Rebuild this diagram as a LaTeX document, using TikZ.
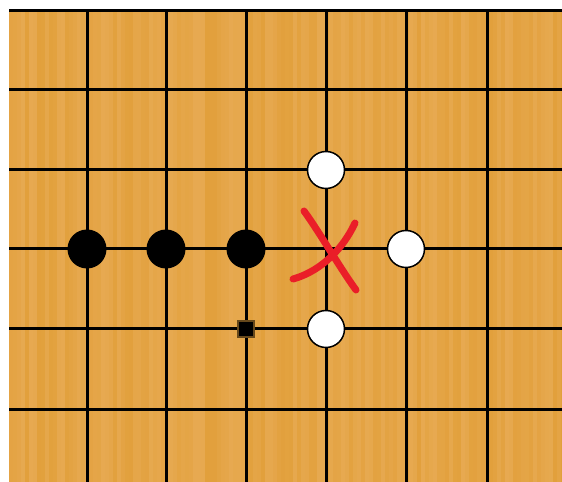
\documentclass[tikz,border=0pt]{standalone}
\usetikzlibrary{positioning}
\definecolor{wood}{RGB}{226,160,60}
\definecolor{woodlight}{RGB}{234,176,96}
\definecolor{xred}{RGB}{234,30,40}

\begin{document}
\begin{tikzpicture}[
    x=0.02cm, y=-0.02cm,
    gridline/.style={line width=0.06cm, black},
    blackstone/.style={circle, fill=black, minimum size=0.78cm, inner sep=0pt},
    whitestone/.style={circle, draw=black, line width=0.03cm, fill=white,
                       minimum size=0.74cm, inner sep=0pt},
    lastmark/.style={rectangle, fill=black, draw=black!55!wood, line width=0.05cm,
                     minimum size=0.32cm, inner sep=0pt},
    redcross/.style={line width=0.14cm, xred, line cap=round}
]
\useasboundingbox (0,0) rectangle (562,482);
% board
\fill[wood] (9,9) rectangle (562,482);
\pgfmathsetseed{12}
\foreach \x in {9,13,...,557} {
    \pgfmathsetmacro\sh{int(60*rnd)}
    \fill[woodlight!\sh!wood] (\x,9) rectangle ++(4,473);
}
% grid
\draw[gridline] (9,10.5) -- (562,10.5);
\foreach \y in {90,170,249,329,410}
    \draw[gridline] (9,\y) -- (562,\y);
\foreach \x in {87,166,246,326,406,487}
    \draw[gridline] (\x,10) -- (\x,482);
% stones
\node[blackstone] (b1) at (87,249) {};
\node[blackstone] (b2) at (166,249) {};
\node[blackstone] (b3) at (246,249) {};
\node[whitestone] (w1) at (326,170) {};
\node[whitestone] (w2) at (406,249) {};
\node[whitestone] (w3) at (326,329) {};
\node[lastmark] (mark) at (246,329) {};
% the cross
\draw[redcross] (304,211) .. controls (318,230) and (340,268) .. (356,290);
\draw[redcross] (293,279) .. controls (315,273) and (340,255) .. (355,223);
\end{tikzpicture}
\end{document}
